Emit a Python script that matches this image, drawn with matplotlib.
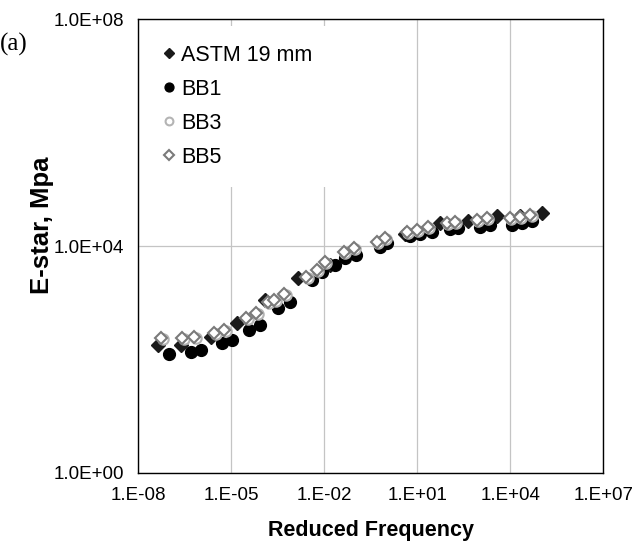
import numpy as np
import matplotlib
matplotlib.use("Agg")
import matplotlib.pyplot as plt
from matplotlib.ticker import FuncFormatter, FixedLocator, NullLocator

plt.rcParams['font.family'] = ['Liberation Sans', 'DejaVu Sans']

# values (reduced frequency, E* in MPa)
astm_f = [4.5e-8, 2.5e-7, 2.3e-6, 1.6e-5, 1.2e-4, 1.4e-3, 1.5e-2, 7.8e-2, 0.62, 4.0,
          55, 440, 3800, 2.1e4, 1.07e5]
astm_e = [180, 180, 249, 440, 1117, 2729, 4627, 7834, 11300, 16260,
          25410, 27600, 33800, 33800, 38180]

bb1_f = [1.0e-7, 5.2e-7, 1.1e-6, 5.2e-6, 1.1e-5, 3.9e-5, 8.3e-5, 3.2e-4, 7.8e-4, 4.0e-3,
         8.3e-3, 2.2e-2, 4.6e-2, 0.11, 0.62, 1.1, 5.9, 12.3, 30, 115,
         209, 1070, 2240, 1.15e4, 2.45e4, 5.1e4]
bb1_e = [125, 136, 147, 195, 221, 331, 405, 808, 1030, 2518,
         3483, 4627, 6146, 6940, 9600, 11300, 15000, 16260, 17660, 19950,
         20760, 21630, 23440, 23440, 25410, 27600]

bb3_f = [6.2e-8, 3.0e-7, 7.2e-7, 3.2e-6, 6.7e-6, 3.4e-5, 7.3e-5, 1.7e-4, 2.8e-4, 5.8e-4,
         3.0e-3, 6.4e-3, 1.17e-2, 4.8e-2, 9.9e-2, 0.56, 1.0, 5.2, 10.9, 24,
         101, 184, 940, 1980, 1.1e4, 2.3e4, 4.9e4]
bb3_e = [228, 229, 238, 280, 316, 512, 628, 985, 1065, 1360,
         2720, 3600, 4990, 7480, 8810, 11220, 13220, 16860, 18280, 20650,
         24260, 25300, 27420, 29720, 29720, 30970, 33580]

bb5_f = [5.6e-8, 2.7e-7, 6.5e-7, 2.9e-6, 6.0e-6, 3.1e-5, 6.6e-5, 1.5e-4, 2.5e-4, 5.2e-4,
         2.7e-3, 5.8e-3, 1.05e-2, 4.3e-2, 8.9e-2, 0.50, 0.91, 4.7, 9.8, 22,
         91, 166, 850, 1780, 1.0e4, 2.1e4, 4.4e4]
bb5_e = [239, 239, 249, 293, 331, 538, 659, 1030, 1117, 1426,
         2844, 3776, 5224, 7834, 9226, 11750, 13840, 17660, 19140, 21630,
         25410, 26490, 28710, 31120, 31120, 32430, 35160]

x_ticks = [1e-8, 1e-5, 1e-2, 1e1, 1e4, 1e7]
y_ticks = [1e0, 1e4, 1e8]

fig = plt.figure(figsize=(6.39, 5.48), dpi=100)
ax = fig.add_axes([0.216, 0.137, 0.728, 0.828])

ax.plot(astm_f, astm_e, 'D', ms=7, color='#1a1a1a', mec='#1a1a1a', label='ASTM 19 mm', zorder=3)
ax.plot(bb1_f, bb1_e, 'o', ms=8.5, color='black', label='BB1', zorder=3)
ax.plot(bb3_f, bb3_e, 'o', ms=7.5, mfc='white', mec='#b4b4b4', mew=1.5, label='BB3', zorder=3)
ax.plot(bb5_f, bb5_e, 'D', ms=6.5, mfc='white', mec='#7a7a7a', mew=1.5, label='BB5', zorder=3)

ax.set_xscale('log')
ax.set_yscale('log')
ax.set_xlim(1e-8, 1e7)
ax.set_ylim(1e0, 1e8)
ax.xaxis.set_major_locator(FixedLocator(x_ticks))
ax.yaxis.set_major_locator(FixedLocator(y_ticks))
ax.xaxis.set_minor_locator(NullLocator())
ax.yaxis.set_minor_locator(NullLocator())
ax.xaxis.set_major_formatter(FuncFormatter(lambda v, p: f"{v:#.0E}"))
ax.yaxis.set_major_formatter(FuncFormatter(lambda v, p: f"{v:.1E}"))
ax.tick_params(length=0, labelsize=13.5)
ax.tick_params(axis='y', pad=10)
ax.tick_params(axis='x', pad=10)
ax.grid(True, color='#c4c4c4', lw=0.9)
ax.set_axisbelow(True)
for s in ax.spines.values():
    s.set_linewidth(1.0)
    s.set_color('black')

ax.set_xlabel('Reduced Frequency', fontsize=15.5, fontweight='bold', labelpad=12)
ax.set_ylabel('E-star, Mpa', fontsize=18.5, fontweight='bold')
ax.yaxis.set_label_coords(-0.18, 0.545)

leg = ax.legend(loc='upper left', bbox_to_anchor=(0.0, 1.0), fontsize=15.5, frameon=True,
                framealpha=1, edgecolor='none', facecolor='white', handlelength=0.5,
                handletextpad=0.3, labelspacing=0.6, markerscale=0.75, borderpad=0.9,
                borderaxespad=0.3)
leg.set_zorder(5)

fig.text(0.0, 0.918, '(a)', fontsize=18, va='center',
         family=['Liberation Serif', 'DejaVu Serif'])

fig.savefig('out.png', dpi=100)
